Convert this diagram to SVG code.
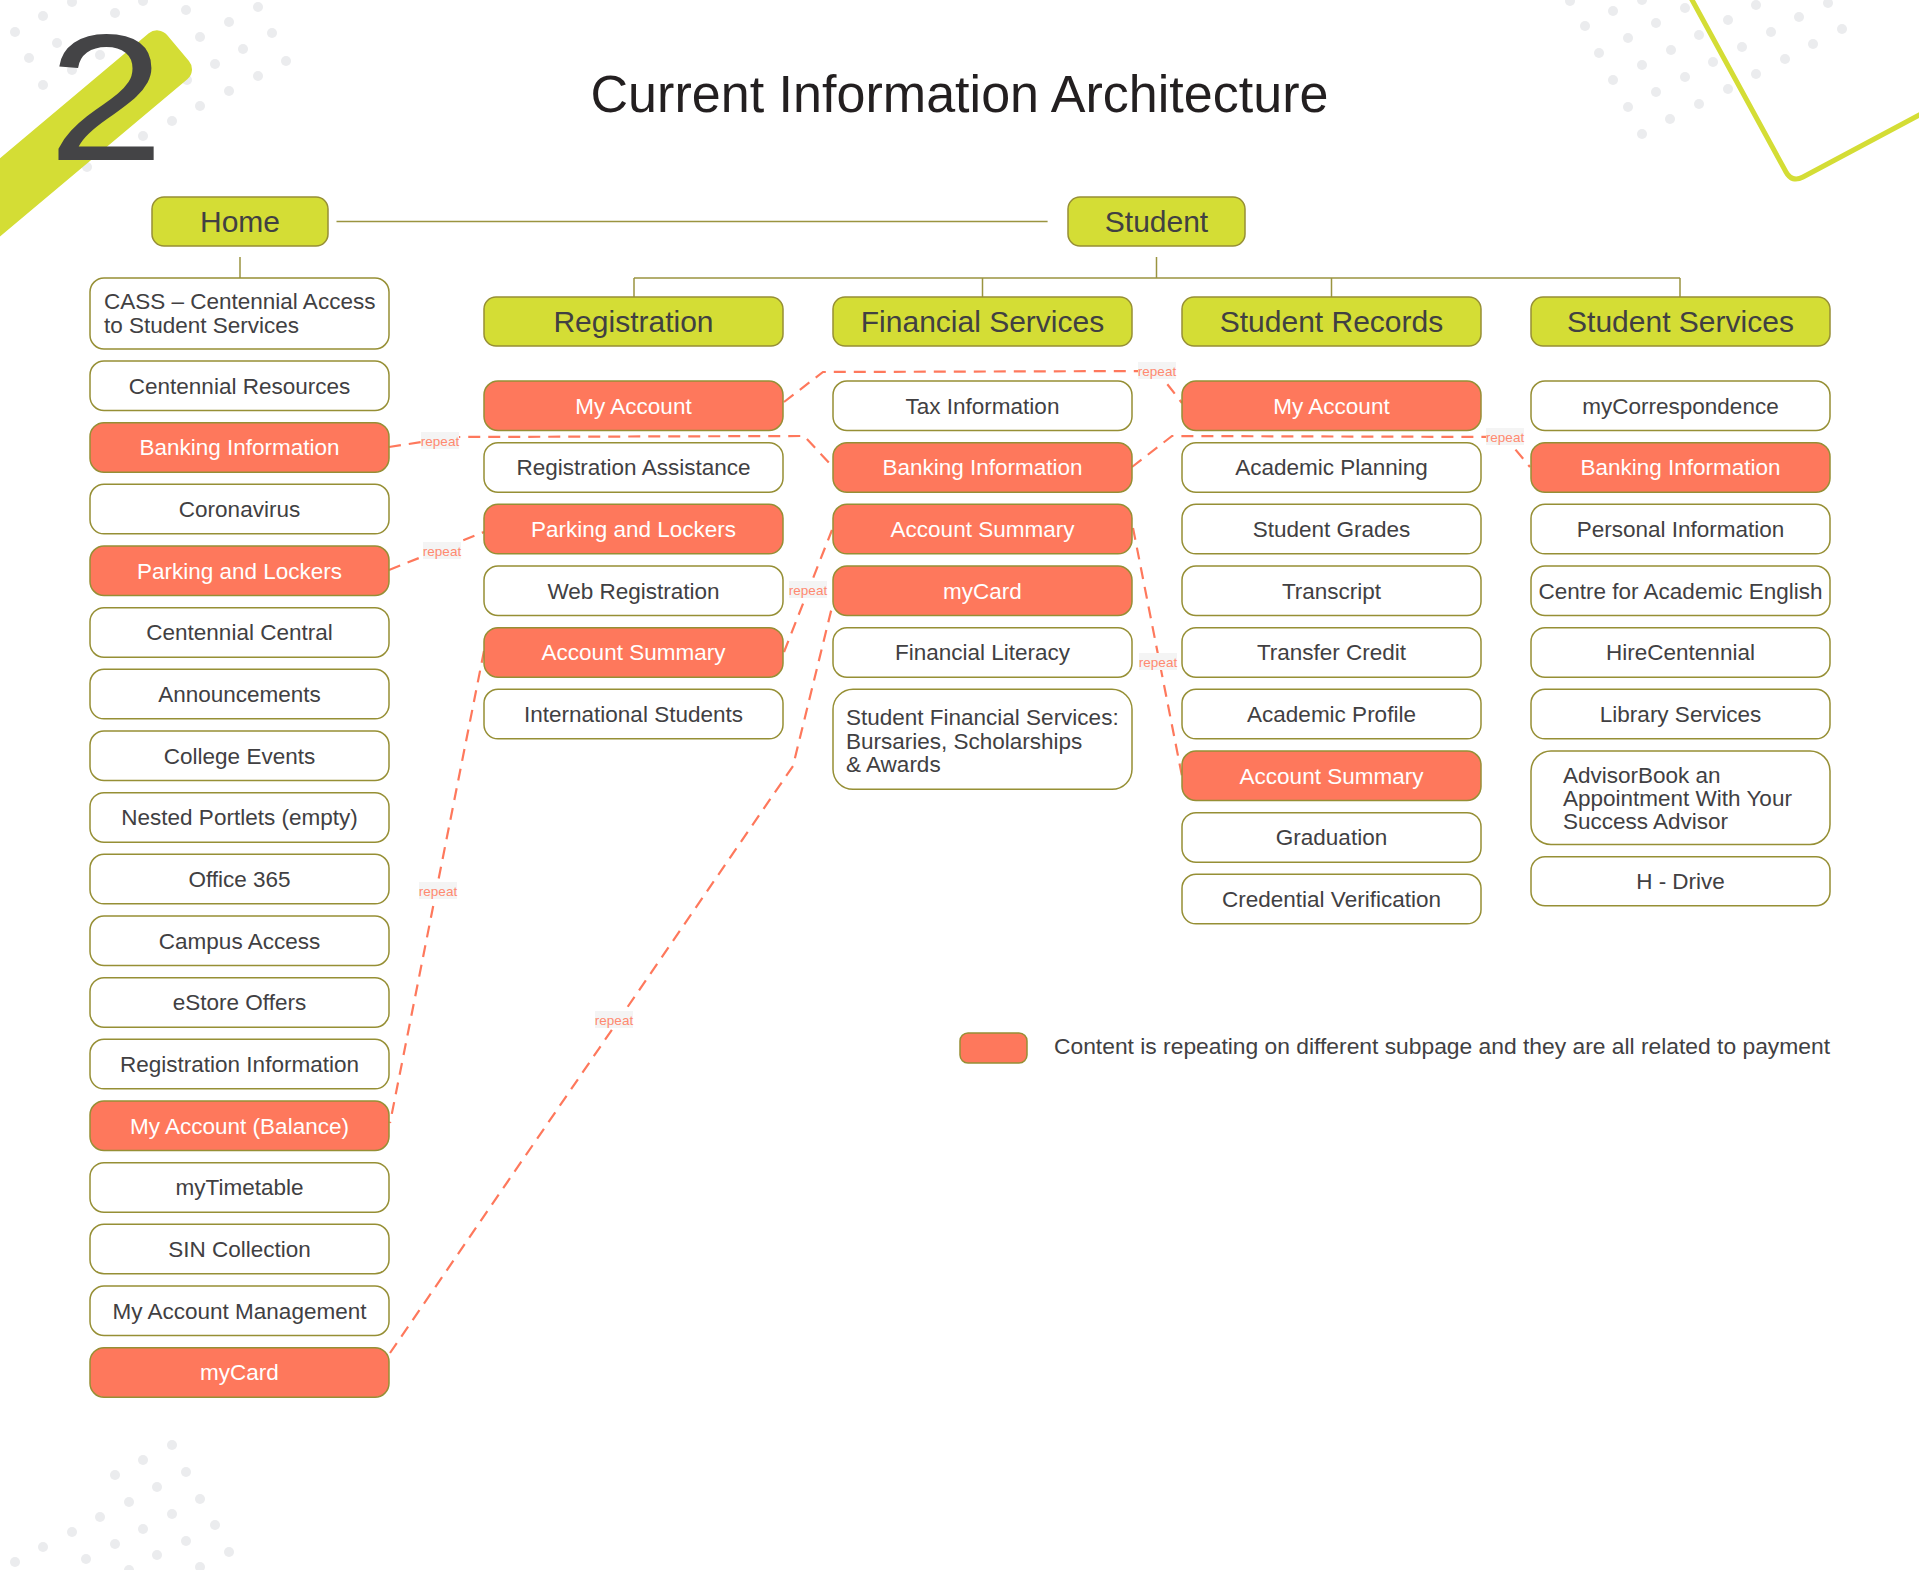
<svg xmlns="http://www.w3.org/2000/svg" width="1919" height="1570" viewBox="0 0 1919 1570">
<style>
.bg{fill:#ffffff}
.dot{fill:#ebecee}
.n{fill:#ffffff;stroke:#968f35;stroke-width:1.5}
.r{fill:#fe785c;stroke:#968f35;stroke-width:1.5}
.h{fill:#d4dd35;stroke:#968f35;stroke-width:1.5}
.t{font-family:"Liberation Sans",Arial,sans-serif;font-size:22.5px;fill:#414042;text-anchor:middle}
.tw{font-family:"Liberation Sans",Arial,sans-serif;font-size:22.5px;fill:#ffffff;text-anchor:middle}
.tl{font-family:"Liberation Sans",Arial,sans-serif;font-size:22.5px;fill:#414042;text-anchor:start}
.ht{font-family:"Liberation Sans",Arial,sans-serif;font-size:30px;fill:#414042;text-anchor:middle}
.tree{fill:none;stroke:#9a9440;stroke-width:1.5}
.rep{fill:none;stroke:#fe785c;stroke-width:2.2;stroke-dasharray:12 8}
.lb{fill:#f4f4f4}
.lt{font-family:"Liberation Sans",Arial,sans-serif;font-size:13.5px;fill:#ff8a70;text-anchor:middle}
</style>
<rect class="bg" x="0" y="0" width="1919" height="1570"/>
<g id="decor">
<g id="dots-tl">
<circle class="dot" cx="72" cy="2" r="5"/><circle class="dot" cx="143" cy="1" r="5"/><circle class="dot" cx="43" cy="16" r="5"/><circle class="dot" cx="115" cy="13" r="5"/><circle class="dot" cx="186" cy="10" r="5"/><circle class="dot" cx="258" cy="7" r="5"/><circle class="dot" cx="15" cy="32" r="5"/><circle class="dot" cx="229" cy="22" r="5"/><circle class="dot" cx="272" cy="33" r="5"/><circle class="dot" cx="57" cy="43" r="5"/><circle class="dot" cx="200" cy="37" r="5"/><circle class="dot" cx="29" cy="58" r="5"/><circle class="dot" cx="100" cy="55" r="5"/><circle class="dot" cx="243" cy="49" r="5"/><circle class="dot" cx="215" cy="64" r="5"/><circle class="dot" cx="286" cy="61" r="5"/><circle class="dot" cx="72" cy="70" r="5"/><circle class="dot" cx="43" cy="85" r="5"/><circle class="dot" cx="187" cy="80" r="5"/><circle class="dot" cx="258" cy="76" r="5"/><circle class="dot" cx="229" cy="91" r="5"/><circle class="dot" cx="200" cy="106" r="5"/><circle class="dot" cx="172" cy="121" r="5"/><circle class="dot" cx="143" cy="136" r="5"/><circle class="dot" cx="87" cy="167" r="5"/>
</g>
<g id="dots-tr">
<circle class="dot" cx="1570" cy="1" r="5"/><circle class="dot" cx="1642" cy="0" r="5"/><circle class="dot" cx="1613" cy="11" r="5"/><circle class="dot" cx="1685" cy="8" r="5"/><circle class="dot" cx="1756" cy="5" r="5"/><circle class="dot" cx="1828" cy="3" r="5"/><circle class="dot" cx="1585" cy="26" r="5"/><circle class="dot" cx="1656" cy="23" r="5"/><circle class="dot" cx="1728" cy="20" r="5"/><circle class="dot" cx="1799" cy="17" r="5"/><circle class="dot" cx="1842" cy="29" r="5"/><circle class="dot" cx="1628" cy="38" r="5"/><circle class="dot" cx="1699" cy="35" r="5"/><circle class="dot" cx="1771" cy="32" r="5"/><circle class="dot" cx="1599" cy="53" r="5"/><circle class="dot" cx="1671" cy="50" r="5"/><circle class="dot" cx="1742" cy="47" r="5"/><circle class="dot" cx="1813" cy="44" r="5"/><circle class="dot" cx="1642" cy="65" r="5"/><circle class="dot" cx="1713" cy="62" r="5"/><circle class="dot" cx="1785" cy="59" r="5"/><circle class="dot" cx="1613" cy="80" r="5"/><circle class="dot" cx="1685" cy="77" r="5"/><circle class="dot" cx="1756" cy="74" r="5"/><circle class="dot" cx="1656" cy="92" r="5"/><circle class="dot" cx="1728" cy="89" r="5"/><circle class="dot" cx="1628" cy="107" r="5"/><circle class="dot" cx="1699" cy="104" r="5"/><circle class="dot" cx="1670" cy="119" r="5"/><circle class="dot" cx="1642" cy="134" r="5"/>
</g>
<g id="dots-bl">
<circle class="dot" cx="172" cy="1445" r="5"/><circle class="dot" cx="143" cy="1460" r="5"/><circle class="dot" cx="115" cy="1475" r="5"/><circle class="dot" cx="186" cy="1472" r="5"/><circle class="dot" cx="200" cy="1499" r="5"/><circle class="dot" cx="215" cy="1525" r="5"/><circle class="dot" cx="229" cy="1552" r="5"/><circle class="dot" cx="157" cy="1487" r="5"/><circle class="dot" cx="172" cy="1514" r="5"/><circle class="dot" cx="186" cy="1541" r="5"/><circle class="dot" cx="200" cy="1567" r="5"/><circle class="dot" cx="129" cy="1502" r="5"/><circle class="dot" cx="143" cy="1529" r="5"/><circle class="dot" cx="157" cy="1555" r="5"/><circle class="dot" cx="100" cy="1517" r="5"/><circle class="dot" cx="115" cy="1544" r="5"/><circle class="dot" cx="129" cy="1570" r="5"/><circle class="dot" cx="72" cy="1532" r="5"/><circle class="dot" cx="86" cy="1559" r="5"/><circle class="dot" cx="43" cy="1547" r="5"/><circle class="dot" cx="15" cy="1562" r="5"/>
</g>
<rect x="-420" y="-30" width="420" height="60" rx="13" fill="#d4dd35" transform="translate(178,48) rotate(-40)"/>
<text transform="translate(48,160) scale(1.16,1)" x="0" y="0" font-family="Liberation Sans, Arial, sans-serif" font-size="180" fill="#444446">2</text>
<path d="M1691,-2 L1786,172 Q1792,183 1803,177 L1921,114" fill="none" stroke="#d4dd35" stroke-width="5" stroke-linejoin="round"/>
</g>
<text id="title" x="959.5" y="112" font-family="Liberation Sans, Arial, sans-serif" font-size="51" fill="#231f20" text-anchor="middle" textLength="738" lengthAdjust="spacingAndGlyphs">Current Information Architecture</text>
<g id="connectors">
<path class="tree" d="M336.5,221.5 H1047.6 M240,257 V278 M1156.5,257 V278 M634,278 H1680 M634,278 V297 M982.5,278 V297 M1331.5,278 V297 M1680,278 V297"/>
<path class="rep" d="M389,447 L455,437 L804,436 L833,467 M1132,467 L1172,436 L1505,437 L1530,467"/>
<path class="rep" d="M784,402 L823,372 L1157,371 L1182,403"/>
<path class="rep" d="M389,570 L484,532"/>
<path class="rep" d="M484,651 L390,1123"/>
<path class="rep" d="M784,652 L832,530"/>
<path class="rep" d="M390,1353 L793,766 L833,603"/>
<path class="rep" d="M1133,528 L1182,776"/>
<g id="labels">
<rect class="lb" x="421" y="432" width="38" height="17"/><text class="lt" x="440" y="445.5">repeat</text>
<rect class="lb" x="1486" y="428" width="38" height="17"/><text class="lt" x="1505" y="441.5">repeat</text>
<rect class="lb" x="1138" y="362" width="38" height="17"/><text class="lt" x="1157" y="375.5">repeat</text>
<rect class="lb" x="423" y="542" width="38" height="17"/><text class="lt" x="442" y="555.5">repeat</text>
<rect class="lb" x="419" y="882" width="38" height="17"/><text class="lt" x="438" y="895.5">repeat</text>
<rect class="lb" x="789" y="581" width="38" height="17"/><text class="lt" x="808" y="594.5">repeat</text>
<rect class="lb" x="595" y="1011" width="38" height="17"/><text class="lt" x="614" y="1024.5">repeat</text>
<rect class="lb" x="1139" y="653" width="38" height="17"/><text class="lt" x="1158" y="666.5">repeat</text>
</g>
</g>
<g id="home"><rect class="h" x="152" y="197" width="176" height="49" rx="12"/><text class="ht" x="240" y="232">Home</text></g>
<g id="student"><rect class="h" x="1068" y="197" width="177" height="49" rx="12"/><text class="ht" x="1156.5" y="232">Student</text></g>
<g id="h-registration"><rect class="h" x="484" y="297" width="299" height="49" rx="12"/><text class="ht" x="633.5" y="332">Registration</text></g>
<g id="h-financial"><rect class="h" x="833" y="297" width="299" height="49" rx="12"/><text class="ht" x="982.5" y="332">Financial Services</text></g>
<g id="h-records"><rect class="h" x="1182" y="297" width="299" height="49" rx="12"/><text class="ht" x="1331.5" y="332">Student Records</text></g>
<g id="h-services"><rect class="h" x="1531" y="297" width="299" height="49" rx="12"/><text class="ht" x="1680.5" y="332">Student Services</text></g>
<g id="home-items">
<g id="c1-cass"><rect class="n" x="90" y="278" width="299" height="71" rx="14"/><text class="tl" x="104" y="309">CASS – Centennial Access</text><text class="tl" x="104" y="333">to Student Services</text></g>
<g id="c1-0"><rect class="n" x="90" y="361" width="299" height="49.5" rx="14"/><text class="t" x="239.5" y="393.5">Centennial Resources</text></g>
<g id="c1-1"><rect class="r" x="90" y="422.7" width="299" height="49.5" rx="14"/><text class="tw" x="239.5" y="455.2">Banking Information</text></g>
<g id="c1-2"><rect class="n" x="90" y="484.3" width="299" height="49.5" rx="14"/><text class="t" x="239.5" y="516.8">Coronavirus</text></g>
<g id="c1-3"><rect class="r" x="90" y="546" width="299" height="49.5" rx="14"/><text class="tw" x="239.5" y="578.5">Parking and Lockers</text></g>
<g id="c1-4"><rect class="n" x="90" y="607.7" width="299" height="49.5" rx="14"/><text class="t" x="239.5" y="640.2">Centennial Central</text></g>
<g id="c1-5"><rect class="n" x="90" y="669.3" width="299" height="49.5" rx="14"/><text class="t" x="239.5" y="701.8">Announcements</text></g>
<g id="c1-6"><rect class="n" x="90" y="731" width="299" height="49.5" rx="14"/><text class="t" x="239.5" y="763.5">College Events</text></g>
<g id="c1-7"><rect class="n" x="90" y="792.7" width="299" height="49.5" rx="14"/><text class="t" x="239.5" y="825.2">Nested Portlets (empty)</text></g>
<g id="c1-8"><rect class="n" x="90" y="854.3" width="299" height="49.5" rx="14"/><text class="t" x="239.5" y="886.8">Office 365</text></g>
<g id="c1-9"><rect class="n" x="90" y="916" width="299" height="49.5" rx="14"/><text class="t" x="239.5" y="948.5">Campus Access</text></g>
<g id="c1-10"><rect class="n" x="90" y="977.7" width="299" height="49.5" rx="14"/><text class="t" x="239.5" y="1010.2">eStore Offers</text></g>
<g id="c1-11"><rect class="n" x="90" y="1039.3" width="299" height="49.5" rx="14"/><text class="t" x="239.5" y="1071.8">Registration Information</text></g>
<g id="c1-12"><rect class="r" x="90" y="1101" width="299" height="49.5" rx="14"/><text class="tw" x="239.5" y="1133.5">My Account (Balance)</text></g>
<g id="c1-13"><rect class="n" x="90" y="1162.7" width="299" height="49.5" rx="14"/><text class="t" x="239.5" y="1195.2">myTimetable</text></g>
<g id="c1-14"><rect class="n" x="90" y="1224.3" width="299" height="49.5" rx="14"/><text class="t" x="239.5" y="1256.8">SIN Collection</text></g>
<g id="c1-15"><rect class="n" x="90" y="1286" width="299" height="49.5" rx="14"/><text class="t" x="239.5" y="1318.5">My Account Management</text></g>
<g id="c1-16"><rect class="r" x="90" y="1347.7" width="299" height="49.5" rx="14"/><text class="tw" x="239.5" y="1380.2">myCard</text></g>
</g>
<g id="registration-items">
<g id="c2-0"><rect class="r" x="484" y="381" width="299" height="49.5" rx="14"/><text class="tw" x="633.5" y="413.5">My Account</text></g>
<g id="c2-1"><rect class="n" x="484" y="442.7" width="299" height="49.5" rx="14"/><text class="t" x="633.5" y="475.2">Registration Assistance</text></g>
<g id="c2-2"><rect class="r" x="484" y="504.3" width="299" height="49.5" rx="14"/><text class="tw" x="633.5" y="536.8">Parking and Lockers</text></g>
<g id="c2-3"><rect class="n" x="484" y="566" width="299" height="49.5" rx="14"/><text class="t" x="633.5" y="598.5">Web Registration</text></g>
<g id="c2-4"><rect class="r" x="484" y="627.7" width="299" height="49.5" rx="14"/><text class="tw" x="633.5" y="660.2">Account Summary</text></g>
<g id="c2-5"><rect class="n" x="484" y="689.3" width="299" height="49.5" rx="14"/><text class="t" x="633.5" y="721.8">International Students</text></g>
</g>
<g id="financial-items">
<g id="c3-0"><rect class="n" x="833" y="381" width="299" height="49.5" rx="14"/><text class="t" x="982.5" y="413.5">Tax Information</text></g>
<g id="c3-1"><rect class="r" x="833" y="442.7" width="299" height="49.5" rx="14"/><text class="tw" x="982.5" y="475.2">Banking Information</text></g>
<g id="c3-2"><rect class="r" x="833" y="504.3" width="299" height="49.5" rx="14"/><text class="tw" x="982.5" y="536.8">Account Summary</text></g>
<g id="c3-3"><rect class="r" x="833" y="566" width="299" height="49.5" rx="14"/><text class="tw" x="982.5" y="598.5">myCard</text></g>
<g id="c3-4"><rect class="n" x="833" y="627.7" width="299" height="49.5" rx="14"/><text class="t" x="982.5" y="660.2">Financial Literacy</text></g>
<g id="c3-5"><rect class="n" x="833" y="689.3" width="299" height="100" rx="20"/><text class="tl" x="846" y="725">Student Financial Services:</text><text class="tl" x="846" y="748.5">Bursaries, Scholarships</text><text class="tl" x="846" y="772">&amp; Awards</text></g>
</g>
<g id="records-items">
<g id="c4-0"><rect class="r" x="1182" y="381" width="299" height="49.5" rx="14"/><text class="tw" x="1331.5" y="413.5">My Account</text></g>
<g id="c4-1"><rect class="n" x="1182" y="442.7" width="299" height="49.5" rx="14"/><text class="t" x="1331.5" y="475.2">Academic Planning</text></g>
<g id="c4-2"><rect class="n" x="1182" y="504.3" width="299" height="49.5" rx="14"/><text class="t" x="1331.5" y="536.8">Student Grades</text></g>
<g id="c4-3"><rect class="n" x="1182" y="566" width="299" height="49.5" rx="14"/><text class="t" x="1331.5" y="598.5">Transcript</text></g>
<g id="c4-4"><rect class="n" x="1182" y="627.7" width="299" height="49.5" rx="14"/><text class="t" x="1331.5" y="660.2">Transfer Credit</text></g>
<g id="c4-5"><rect class="n" x="1182" y="689.3" width="299" height="49.5" rx="14"/><text class="t" x="1331.5" y="721.8">Academic Profile</text></g>
<g id="c4-6"><rect class="r" x="1182" y="751" width="299" height="49.5" rx="14"/><text class="tw" x="1331.5" y="783.5">Account Summary</text></g>
<g id="c4-7"><rect class="n" x="1182" y="812.7" width="299" height="49.5" rx="14"/><text class="t" x="1331.5" y="845.2">Graduation</text></g>
<g id="c4-8"><rect class="n" x="1182" y="874.3" width="299" height="49.5" rx="14"/><text class="t" x="1331.5" y="906.8">Credential Verification</text></g>
</g>
<g id="services-items">
<g id="c5-0"><rect class="n" x="1531" y="381" width="299" height="49.5" rx="14"/><text class="t" x="1680.5" y="413.5">myCorrespondence</text></g>
<g id="c5-1"><rect class="r" x="1531" y="442.7" width="299" height="49.5" rx="14"/><text class="tw" x="1680.5" y="475.2">Banking Information</text></g>
<g id="c5-2"><rect class="n" x="1531" y="504.3" width="299" height="49.5" rx="14"/><text class="t" x="1680.5" y="536.8">Personal Information</text></g>
<g id="c5-3"><rect class="n" x="1531" y="566" width="299" height="49.5" rx="14"/><text class="t" x="1680.5" y="598.5">Centre for Academic English</text></g>
<g id="c5-4"><rect class="n" x="1531" y="627.7" width="299" height="49.5" rx="14"/><text class="t" x="1680.5" y="660.2">HireCentennial</text></g>
<g id="c5-5"><rect class="n" x="1531" y="689.3" width="299" height="49.5" rx="14"/><text class="t" x="1680.5" y="721.8">Library Services</text></g>
<g id="c5-6"><rect class="n" x="1531" y="751" width="299" height="93.5" rx="20"/><text class="tl" x="1563" y="782.7">AdvisorBook an</text><text class="tl" x="1563" y="806">Appointment With Your</text><text class="tl" x="1563" y="829.3">Success Advisor</text></g>
<g id="c5-7"><rect class="n" x="1531" y="856.7" width="299" height="49" rx="14"/><text class="t" x="1680.5" y="889">H - Drive</text></g>
</g>
<g id="legend">
<rect class="r" x="960" y="1033" width="67" height="30" rx="8"/>
<text x="1054" y="1054" font-family="Liberation Sans, Arial, sans-serif" font-size="21.5" fill="#414042" textLength="776" lengthAdjust="spacingAndGlyphs">Content is repeating on different subpage and they are all related to payment</text>
</g>
</svg>
